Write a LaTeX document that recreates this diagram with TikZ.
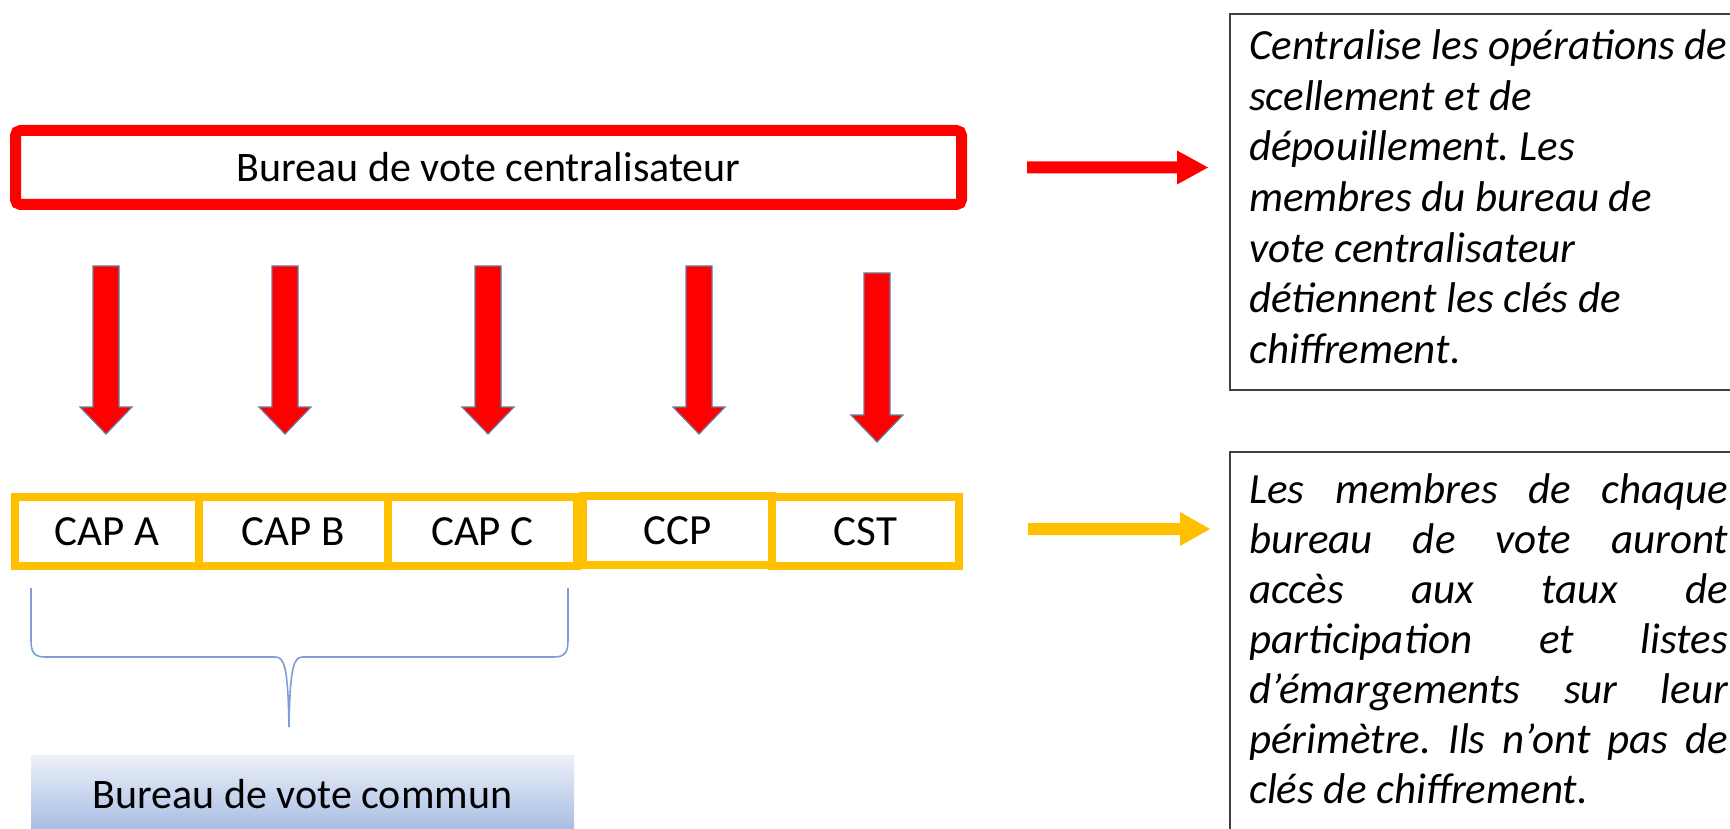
\documentclass[tikz,border=0pt]{standalone}
\usepackage{fontspec}
\setmainfont{Carlito}
\frenchspacing
\definecolor{redc}{HTML}{FF0000}
\definecolor{yel}{HTML}{FFC000}
\definecolor{arrline}{HTML}{6A7BA2}
\definecolor{bracec}{HTML}{7F9ED6}
\definecolor{gradtop}{HTML}{EDF1F9}
\definecolor{gradbot}{HTML}{A8BDE3}
\definecolor{boxline}{HTML}{404040}
\newcommand\blockdown[4]{\draw[downarr] (#1-13,#2) -- (#1+13,#2) -- (#1+13,#3) -- (#1+26,#3) -- (#1,#4) -- (#1-26,#3) -- (#1-13,#3) -- cycle;}
\newcommand\blockright[5]{\fill[#5] (#1,#4-6) -- (#2,#4-6) -- (#2,#4-17) -- (#3,#4) -- (#2,#4+17) -- (#2,#4+6) -- (#1,#4+6) -- cycle;}
\tikzset{
  bigfont/.style={font=\fontsize{42}{51}\selectfont},
  redbox/.style={draw=redc, line width=11pt, rounded corners=5pt, minimum width=946pt, minimum height=74pt, inner sep=0pt, bigfont},
  capbox/.style={draw=yel, line width=8pt, minimum height=69pt, inner sep=0pt, font=\fontsize{43}{51}\selectfont},
  downarr/.style={fill=redc, draw=arrline, line width=1.2pt},
  bracestyle/.style={draw=bracec, line width=1.6pt},
  txtbox/.style={draw=boxline, line width=1.6pt},
  rline/.style={anchor=base west, inner sep=0pt, font=\fontsize{43}{51}\selectfont\itshape},
}
\begin{document}
\begin{tikzpicture}[x=1pt,y=-1pt]
\useasboundingbox (0,0) rectangle (1730,829);
\fill[white] (0,0) rectangle (1730,829);
% top red box
\node[redbox] (bvc) at (488.5,167.5) {Bureau de vote centralisateur};
% down arrows
\blockdown{106}{266}{407}{434}
\blockdown{285}{266}{407}{434}
\blockdown{488}{266}{407}{434}
\blockdown{699}{266}{407}{434}
\blockdown{877}{273}{415}{442}
% yellow boxes
\node[capbox, minimum width=184pt] (capa) at (107,531.5) {CAP A};
\node[capbox, minimum width=189pt] (capb) at (293.5,531.5) {CAP B};
\node[capbox, minimum width=189pt] (capc) at (482.5,531.5) {CAP C};
\node[capbox, minimum width=189pt] (ccp) at (677.5,530.5) {CCP};
\node[capbox, minimum width=187pt] (cst) at (865.5,531.5) {CST};
% brace
\coordinate (brtip) at (289,727);
\draw[bracestyle] (31,588) -- (31,640) .. controls (31,652) and (34,657) .. (45,657) -- (275,657) .. controls (284,657) and (288,665) .. (brtip);
\draw[bracestyle] (568,588) -- (568,640) .. controls (568,652) and (565,657) .. (554,657) -- (303,657) .. controls (294,657) and (290,665) .. (brtip);
% common box
\shade[top color=gradtop, bottom color=gradbot] (31,755) rectangle (574,829);
\node[bigfont, inner sep=0pt] (bvcom) at (302.5,794) {Bureau de vote commun};
% right arrows
\blockright{1027}{1177}{1208}{167.5}{redc}
\blockright{1028}{1180}{1210}{529}{yel}
% right text boxes
\draw[txtbox] (1230,14) rectangle (1760,390);
\draw[txtbox] (1230,452) rectangle (1760,860);
\node[rline] (t1) at (1249,60) {Centralise les opérations de};
\node[rline] (t2) at (1249,110.5) {scellement et de};
\node[rline] (t3) at (1249,161) {dépouillement. Les};
\node[rline] (t4) at (1249,211.5) {membres du bureau de};
\node[rline] (t5) at (1249,262) {vote centralisateur};
\node[rline] (t6) at (1249,312.5) {détiennent les clés de};
\node[rline] (t7) at (1249,363) {chiffrement.};
\node[rline] (u1) at (1249,503) {\makebox[479pt][s]{Les membres de chaque}};
\node[rline] (u2) at (1249,553) {\makebox[479pt][s]{bureau de vote auront}};
\node[rline] (u3) at (1249,603) {\makebox[479pt][s]{accès aux taux de}};
\node[rline] (u4) at (1249,653) {\makebox[479pt][s]{participation et listes}};
\node[rline] (u5) at (1249,703) {\makebox[479pt][s]{d’émargements sur leur}};
\node[rline] (u6) at (1249,753) {\makebox[479pt][s]{périmètre. Ils n’ont pas de}};
\node[rline] (u7) at (1249,803) {clés de chiffrement.};
\end{tikzpicture}
\end{document}
